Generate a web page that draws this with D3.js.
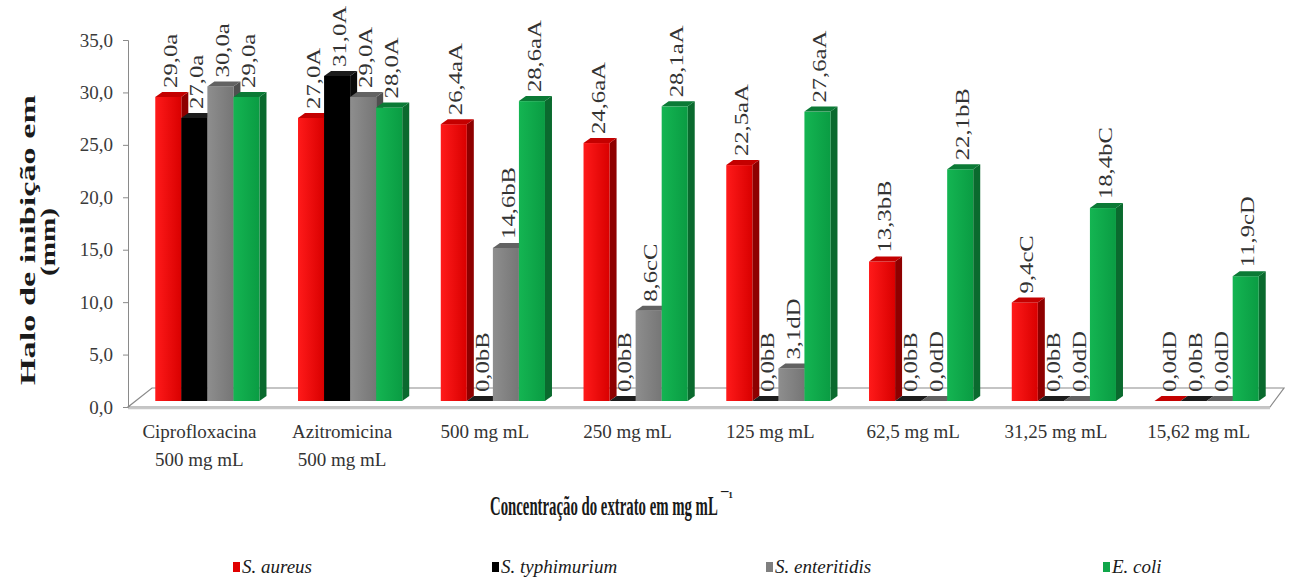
<!DOCTYPE html>
<html>
<head>
<meta charset="utf-8">
<script src="https://cdn.jsdelivr.net/npm/d3@7"></script>
<style>
body { margin: 0; background: #fff; }
text { font-family: "Liberation Serif", "Times New Roman", serif; }
</style>
</head>
<body>
<div id="chart"></div>
<script>
// data
var categories = ['Ciprofloxacina\n500 mg mL', 'Azitromicina\n500 mg mL', '500 mg mL', '250 mg mL',
    '125 mg mL', '62,5 mg mL', '31,25 mg mL', '15,62 mg mL'];
var series = ['S. aureus', 'S. typhimurium', 'S. enteritidis', 'E. coli'];

var aureus = [29.0, 27.0, 26.4, 24.6, 22.5, 13.3, 9.4, 0.0];
var typhimurium = [27.0, 31.0, 0.0, 0.0, 0.0, 0.0, 0.0, 0.0];
var enteritidis = [30.0, 29.0, 14.6, 8.6, 3.1, 0.0, 0.0, 0.0];
var coli = [29.0, 28.0, 28.6, 28.1, 27.6, 22.1, 18.4, 11.9];

var aureusLabels = ['29,0a', '27,0A', '26,4aA', '24,6aA', '22,5aA', '13,3bB', '9,4cC', '0,0dD'];
var typhimuriumLabels = ['27,0a', '31,0A', '0,0bB', '0,0bB', '0,0bB', '0,0bB', '0,0bB', '0,0bB'];
var enteritidisLabels = ['30,0a', '29,0A', '14,6bB', '8,6cC', '3,1dD', '0,0dD', '0,0dD', '0,0dD'];
var coliLabels = ['29,0a', '28,0A', '28,6aA', '28,1aA', '27,6aA', '22,1bB', '18,4bC', '11,9cD'];

var yTicks = [0, 5, 10, 15, 20, 25, 30, 35];
var yTickLabels = ['0,0', '5,0', '10,0', '15,0', '20,0', '25,0', '30,0', '35,0'];

var values = [aureus, typhimurium, enteritidis, coli];
var labels = [aureusLabels, typhimuriumLabels, enteritidisLabels, coliLabels];

// colours: front gradient, side, top
var colors = [
    { a: '#ff1a1a', b: '#d90000', side: '#8e0000', top: '#c40000', key: '#e00000' },
    { a: '#000000', b: '#000000', side: '#0a0a0a', top: '#1c1c1c', key: '#000000' },
    { a: '#8e8e8e', b: '#767676', side: '#4f4f4f', top: '#626262', key: '#7f7f7f' },
    { a: '#14b552', b: '#0a9c43', side: '#0a6a2e', top: '#0b7a36', key: '#10a64a' }
];

var width = 1296, height = 581;

var svg = d3.select('#chart').append('svg')
    .attr('width', width)
    .attr('height', height);

var defs = svg.append('defs');
colors.forEach(function(c, i) {
    var g = defs.append('linearGradient').attr('id', 'grad' + i)
        .attr('x1', 0).attr('x2', 1).attr('y1', 0).attr('y2', 0);
    g.append('stop').attr('offset', '0%').attr('stop-color', c.a);
    g.append('stop').attr('offset', '100%').attr('stop-color', c.b);
});

var floorDxL = 24, floorDxR = 14, floorDy = 19;   // floor depth (slight perspective)
var barDx = 8, barDy = 6;         // bars stand inside the floor
var capDx = 7, capDy = 5;         // bar depth

var x = d3.scaleBand()
    .domain(categories)
    .range([128, 1270])
    .paddingInner(0.27)
    .paddingOuter(0.135);

var xs = d3.scaleBand()
    .domain(series)
    .range([0, x.bandwidth()]);

var y = d3.scaleLinear()
    .domain([0, 35])
    .range([407, 40]);

// floor
var x0 = x.range()[0], x1 = x.range()[1], y0 = y(0);
svg.append('polygon')
    .attr('points', [[x0, y0], [x1, y0], [x1 + floorDxR, y0 - floorDy], [x0 + floorDxL, y0 - floorDy]].join(' '))
    .attr('fill', '#fff')
    .attr('stroke', '#8a8a8a')
    .attr('stroke-width', 1.2);
svg.append('line')
    .attr('x1', x0).attr('x2', x1)
    .attr('y1', y0 + 1.5).attr('y2', y0 + 1.5)
    .attr('stroke', '#c8c8c8')
    .attr('stroke-width', 1.5);

// y axis
var yAxis = svg.append('g')
    .attr('transform', `translate(${x0}, 0)`)
    .call(d3.axisLeft(y).tickValues(yTicks).tickSize(5).tickFormat(function(d, i) { return yTickLabels[i]; }));
yAxis.select('.domain').attr('stroke', '#8a8a8a');
yAxis.selectAll('.tick line').attr('stroke', '#8a8a8a');
yAxis.selectAll('.tick text')
    .attr('x', -15)
    .attr('font-family', '"Liberation Serif", serif')
    .attr('font-size', '19px')
    .attr('fill', '#3a3a3a');

// bars
var gBars = svg.append('g');
categories.forEach(function(cat, i) {
    series.forEach(function(s, j) {
        var v = values[j][i];
        var c = colors[j];
        var bx = x(cat) + xs(s) + barDx;
        var w = xs.bandwidth();
        var yBot = y(0) - barDy;
        var yTop = y(v) - barDy;
        var g = gBars.append('g');

        g.append('polygon')
            .attr('points', [[bx + w, yBot], [bx + w + capDx, yBot - capDy], [bx + w + capDx, yTop - capDy], [bx + w, yTop]].join(' '))
            .attr('fill', c.side);
        g.append('rect')
            .attr('x', bx)
            .attr('y', yTop)
            .attr('width', w)
            .attr('height', yBot - yTop)
            .attr('fill', 'url(#grad' + j + ')');
        g.append('polygon')
            .attr('points', [[bx, yTop], [bx + capDx, yTop - capDy], [bx + w + capDx, yTop - capDy], [bx + w, yTop]].join(' '))
            .attr('fill', c.top);
    });
});

// value labels
categories.forEach(function(cat, i) {
    series.forEach(function(s, j) {
        var v = values[j][i];
        var cx = x(cat) + xs(s) + barDx + xs.bandwidth() / 2 + 2;
        var cy = y(v) - barDy - capDy - 4;
        svg.append('text')
            .attr('transform', `translate(${cx}, ${cy}) rotate(-90) scale(1.3, 1)`)
            .attr('dy', '0.35em')
            .attr('font-size', '19px')
            .attr('fill', '#333')
            .text(labels[j][i]);
    });
});

// category labels
categories.forEach(function(cat) {
    var t = svg.append('text')
        .attr('text-anchor', 'middle')
        .attr('font-size', '19px')
        .attr('fill', '#333');
    cat.split('\n').forEach(function(line, k) {
        t.append('tspan')
            .attr('x', x(cat) + x.bandwidth() / 2)
            .attr('y', 438 + k * 28)
            .text(line);
    });
});

// axis titles
svg.append('text')
    .attr('transform', 'translate(35, 240) rotate(-90)')
    .attr('text-anchor', 'middle')
    .attr('font-size', '22px')
    .attr('font-weight', 'bold')
    .attr('fill', '#1a1a1a')
    .attr('textLength', 290)
    .attr('lengthAdjust', 'spacingAndGlyphs')
    .text('Halo de inibição  em');
svg.append('text')
    .attr('transform', 'translate(55, 242) rotate(-90)')
    .attr('text-anchor', 'middle')
    .attr('font-size', '22px')
    .attr('font-weight', 'bold')
    .attr('fill', '#1a1a1a')
    .attr('textLength', 68)
    .attr('lengthAdjust', 'spacingAndGlyphs')
    .text('(mm)');

// x title, squeezed horizontally like the original
var titleW = 228;
var xTitle = svg.append('text')
    .attr('font-size', '27px')
    .attr('font-weight', 'bold')
    .attr('fill', '#1a1a1a')
    .text('Concentração do extrato em mg mL');
var natural = xTitle.node().getComputedTextLength();
xTitle.attr('transform', `translate(490, 515) scale(${titleW / natural}, 1)`);
svg.append('text')
    .attr('x', 490 + titleW + 3)
    .attr('y', 502)
    .attr('font-size', '15px')
    .attr('font-weight', 'bold')
    .attr('fill', '#1a1a1a')
    .text('¯¹');

// legend
var legendX = [233, 492, 766, 1103];
series.forEach(function(s, j) {
    var g = svg.append('g').attr('transform', `translate(${legendX[j]}, 567)`);
    g.append('rect')
        .attr('x', 0).attr('y', -5)
        .attr('width', 7).attr('height', 10)
        .attr('fill', colors[j].key);
    g.append('text')
        .attr('x', 9)
        .attr('y', 6)
        .attr('font-size', '19px')
        .attr('font-style', 'italic')
        .attr('fill', '#1a1a1a')
        .text(s);
});
</script>
</body>
</html>
